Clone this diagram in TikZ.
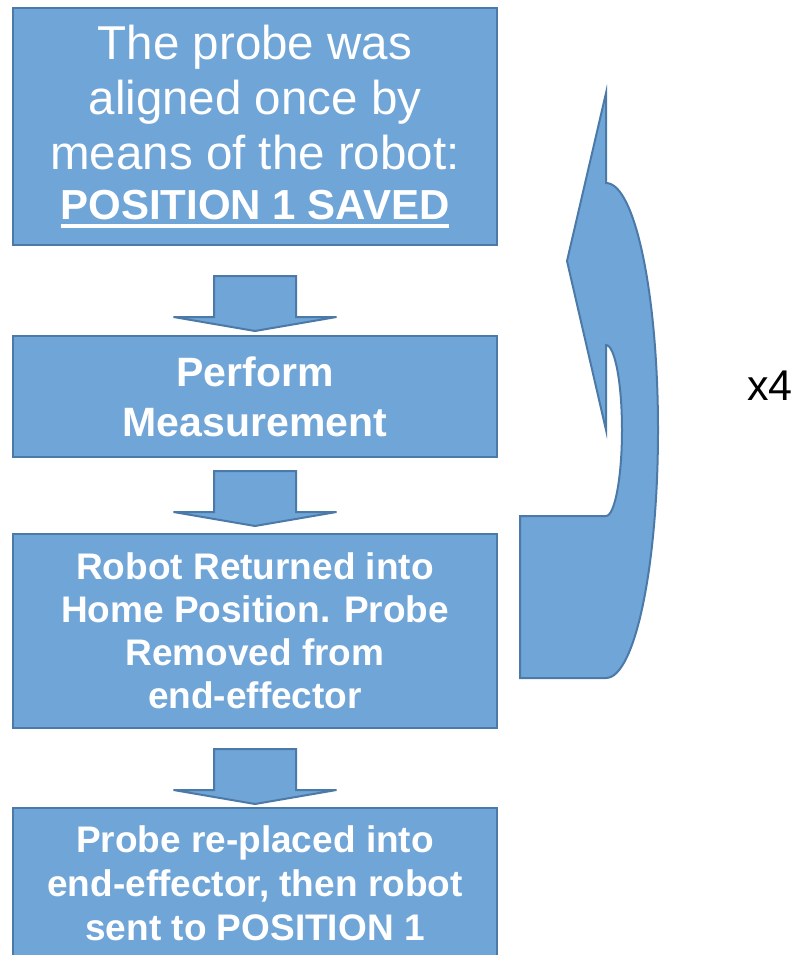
\documentclass[tikz,border=0pt]{standalone}
\usepackage{fontspec}
\setmainfont{Liberation Sans}
\definecolor{boxfill}{RGB}{112,165,216}
\definecolor{boxline}{RGB}{76,122,168}
\newcommand\thickul[1]{\setbox0\hbox{#1}\rlap{\raisebox{-9pt}{\rule{\wd0}{4pt}}}\box0}
\begin{document}
\begin{tikzpicture}[x=1pt,y=-1pt,
  shapestyle/.style={draw=boxline,fill=boxfill,line width=2pt,line join=miter},
  flowbox/.style={shapestyle,rectangle,minimum width=484pt,inner sep=0pt,
    text=white,align=center},
  downarr/.pic={\draw[shapestyle] (-41,0) -- (41,0) -- (41,41) -- (81.5,41)
      -- (0,55) -- (-81.5,41) -- (-41,41) -- cycle;}]
\useasboundingbox (0,0) rectangle (798,955);

\node[flowbox,minimum height=237pt,font=\fontsize{47.5}{55}\selectfont] (b1) at (255,126.5)
  {The probe was\\ aligned once by\\ means of the robot:\\[-5pt]
   \fontsize{42}{50}\selectfont\bfseries\thickul{POSITION 1 SAVED}};

\node[flowbox,minimum height=121pt,font=\fontsize{41}{50}\selectfont\bfseries] (b2) at (255,396.5)
  {Perform\\ Measurement};

\node[flowbox,minimum height=194pt,font=\fontsize{37}{43}\selectfont\bfseries] (b3) at (255,631)
  {Robot Returned into\\ Home Position. Probe\\ Removed from\\ end-effector};

\node[flowbox,minimum height=150pt,font=\fontsize{37}{44}\selectfont\bfseries] (b4) at (255,883)
  {Probe re-placed into\\ end-effector, then robot\\ sent to POSITION 1};

\pic at ([yshift=-30pt]b1.south) {downarr};
\pic at ([yshift=-13pt]b2.south) {downarr};
\pic at ([yshift=-20pt]b3.south) {downarr};

% curved loop-back arrow
\draw[shapestyle] (606,93) -- (567,261) -- (606,430) -- (606,345)
  .. controls (614.8,345) and (622,383) .. (622,430)
  .. controls (622,477) and (614.8,516) .. (606,516)
  -- (520,516) -- (520,678) -- (606,678)
  .. controls (634.7,678) and (658,567) .. (658,430)
  .. controls (658,293) and (634.7,183) .. (606,183)
  -- cycle;

\node[anchor=base,inner sep=0pt,font=\fontsize{43}{50}\selectfont] (rep) at (770,400) {x4};
\end{tikzpicture}
\end{document}
